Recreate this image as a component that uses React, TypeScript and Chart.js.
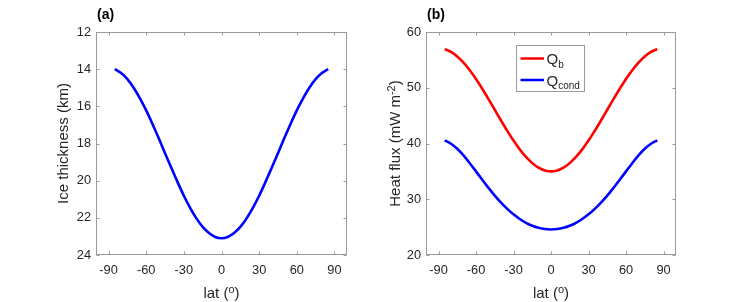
import React, { useEffect, useRef } from "react";
import { Chart, registerables } from "chart.js";

Chart.register(...registerables);

// ---------- data ----------
const lat = [
  -85, -80, -75, -70, -65, -60, -55, -50, -45, -40, -35, -30, -25, -20, -15, -10, -5,
  0, 5, 10, 15, 20, 25, 30, 35, 40, 45, 50, 55, 60, 65, 70, 75, 80, 85,
];
const iceThickness = [
  14.0, 14.21, 14.54, 15.0, 15.57, 16.22, 16.95, 17.72, 18.52, 19.31, 20.08, 20.81, 21.46, 22.03, 22.49, 22.82, 23.03,
  23.1, 23.03, 22.82, 22.49, 22.03, 21.46, 20.81, 20.08, 19.31, 18.52, 17.72, 16.95, 16.22, 15.57, 15.0, 14.54, 14.21, 14.0,
];
const qB = [
  56.93, 56.43, 55.62, 54.51, 53.15, 51.58, 49.83, 47.97, 46.05, 44.13, 42.27, 40.53, 38.95, 37.59, 36.48, 35.67, 35.17,
  35.0, 35.17, 35.67, 36.48, 37.59, 38.95, 40.53, 42.27, 44.13, 46.05, 47.97, 49.83, 51.58, 53.15, 54.51, 55.62, 56.43, 56.93,
];
const qCond = [
  40.56, 39.96, 39.05, 37.86, 36.47, 35.0, 33.5, 32.04, 30.66, 29.41, 28.28, 27.29, 26.46, 25.78, 25.25, 24.88, 24.65,
  24.58, 24.65, 24.88, 25.25, 25.78, 26.46, 27.29, 28.28, 29.41, 30.66, 32.04, 33.5, 35.0, 36.47, 37.86, 39.05, 39.96, 40.56,
];
const latTicks = [-90, -60, -30, 0, 30, 60, 90];
const thickTicks = [12, 14, 16, 18, 20, 22, 24];
const fluxTicks = [20, 30, 40, 50, 60];
const legendMain = ["Q", "Q"];
const legendSub = ["b", "cond"];

// ---------- styling ----------
const FONT = '"Liberation Sans", Arial, Helvetica, sans-serif';
const TEXT = "#262626";
const FRAME = "#9a9a9a";

type Part = { text: string; size: number; dy: number; bold?: boolean };

function partsWidth(ctx: CanvasRenderingContext2D, parts: Part[]) {
  let w = 0;
  for (const p of parts) {
    ctx.font = `${p.bold ? "bold " : ""}${p.size}px ${FONT}`;
    w += ctx.measureText(p.text).width;
  }
  return w;
}
function drawParts(ctx: CanvasRenderingContext2D, parts: Part[], x: number, y: number) {
  ctx.textBaseline = "alphabetic";
  ctx.textAlign = "left";
  let cx = x;
  for (const p of parts) {
    ctx.font = `${p.bold ? "bold " : ""}${p.size}px ${FONT}`;
    ctx.fillText(p.text, cx, y + p.dy);
    cx += ctx.measureText(p.text).width;
  }
}

const xTitle: Part[] = [
  { text: "lat (", size: 15, dy: 0 },
  { text: "o", size: 11, dy: -5.5 },
  { text: ")", size: 15, dy: 0 },
];

function decorPlugin(opts: {
  label: string;
  yTitle: Part[];
  yTitleGap: number;
  legend?: boolean;
}) {
  return {
    id: "panelDecor",
    afterDraw(chart: any) {
      const { ctx, chartArea: a, scales } = chart;
      const xs = scales.x;
      const ys = scales.y;
      ctx.save();
      // frame
      ctx.strokeStyle = FRAME;
      ctx.lineWidth = 1;
      const L = Math.round(a.left) + 0.5;
      const R = Math.round(a.right) - 0.5;
      const T = Math.round(a.top) + 0.5;
      const B = Math.round(a.bottom) - 0.5;
      ctx.strokeRect(L, T, R - L, B - T);
      ctx.beginPath();
      for (const t of xs.ticks) {
        const px = Math.round(xs.getPixelForValue(t.value)) + 0.5;
        ctx.moveTo(px, B);
        ctx.lineTo(px, B - 3);
        ctx.moveTo(px, T);
        ctx.lineTo(px, T + 3);
      }
      for (const t of ys.ticks) {
        const py = Math.round(ys.getPixelForValue(t.value)) + 0.5;
        ctx.moveTo(L, py);
        ctx.lineTo(L + 3, py);
        ctx.moveTo(R, py);
        ctx.lineTo(R - 3, py);
      }
      ctx.stroke();

      ctx.fillStyle = TEXT;
      // x title
      const cxm = (a.left + a.right) / 2;
      const wx = partsWidth(ctx, xTitle);
      drawParts(ctx, xTitle, cxm - wx / 2, 298);

      // y title (rotated)
      const cym = (a.top + a.bottom) / 2;
      const wy = partsWidth(ctx, opts.yTitle);
      ctx.save();
      ctx.translate(a.left - opts.yTitleGap, cym);
      ctx.rotate(-Math.PI / 2);
      drawParts(ctx, opts.yTitle, -wy / 2, 0);
      ctx.restore();

      // panel label
      ctx.fillStyle = "#000";
      drawParts(ctx, [{ text: opts.label, size: 14, dy: 0, bold: true }], a.left + 1, 18.5);

      // legend
      if (opts.legend) {
        const x0 = Math.round(a.left + 90) + 0.5;
        const y0 = Math.round(a.top + 13) + 0.5;
        const w = 68;
        const h = 46;
        ctx.fillStyle = "#fff";
        ctx.fillRect(x0, y0, w, h);
        ctx.strokeStyle = FRAME;
        ctx.lineWidth = 1;
        ctx.strokeRect(x0, y0, w, h);
        chart.data.datasets.forEach((ds: any, i: number) => {
          const ly = y0 + 13 + i * 21.5;
          ctx.strokeStyle = ds.borderColor;
          ctx.lineWidth = 2.5;
          ctx.beginPath();
          ctx.moveTo(x0 + 4, ly);
          ctx.lineTo(x0 + 27.5, ly);
          ctx.stroke();
          ctx.fillStyle = TEXT;
          drawParts(
            ctx,
            [
              { text: legendMain[i], size: 15, dy: 0 },
              { text: legendSub[i], size: 10, dy: 3.5 },
            ],
            x0 + 30,
            ly + 5.5
          );
        });
      }
      ctx.restore();
    },
  };
}

function baseScales(yTicks: number[], yMin: number, yMax: number, yWidth: number, reverse: boolean) {
  return {
    x: {
      type: "linear" as const,
      min: -100,
      max: 100,
      afterBuildTicks: (s: any) => {
        s.ticks = latTicks.map((v) => ({ value: v }));
      },
      afterFit: (s: any) => {
        s.height = 47;
      },
      grid: { display: false, drawTicks: false },
      border: { display: false },
      ticks: {
        font: { family: FONT, size: 12.8 },
        color: TEXT,
        padding: 8,
        maxRotation: 0,
        autoSkip: false,
      },
    },
    y: {
      type: "linear" as const,
      min: yMin,
      max: yMax,
      reverse,
      afterBuildTicks: (s: any) => {
        s.ticks = yTicks.map((v) => ({ value: v }));
      },
      afterFit: (s: any) => {
        s.width = yWidth;
      },
      grid: { display: false, drawTicks: false },
      border: { display: false },
      ticks: {
        font: { family: FONT, size: 12.8 },
        color: TEXT,
        padding: 5,
        autoSkip: false,
      },
    },
  };
}

function PanelA() {
  const ref = useRef<HTMLCanvasElement | null>(null);
  useEffect(() => {
    if (!ref.current) return;
    const chart = new Chart(ref.current, {
      type: "line",
      data: {
        datasets: [
          {
            label: "Ice thickness",
            data: lat.map((x, i) => ({ x, y: iceThickness[i] })),
            borderColor: "#0000ff",
            borderWidth: 2.6,
            pointRadius: 0,
            cubicInterpolationMode: "monotone",
          },
        ],
      },
      options: {
        responsive: false,
        animation: false,
        layout: { padding: { top: 32, right: 33, left: 0, bottom: 0 } },
        plugins: { legend: { display: false }, tooltip: { enabled: false } },
        scales: baseScales(thickTicks, 12, 24, 96, true) as any,
      },
      plugins: [
        decorPlugin({
          label: "(a)",
          yTitle: [{ text: "Ice thickness (km)", size: 15, dy: 0 }],
          yTitleGap: 28,
        }),
      ],
    });
    return () => chart.destroy();
  }, []);
  return (
    <canvas
      ref={ref}
      width={380}
      height={302}
      style={{ position: "absolute", left: 0, top: 0, width: 380, height: 302 }}
    />
  );
}

function PanelB() {
  const ref = useRef<HTMLCanvasElement | null>(null);
  useEffect(() => {
    if (!ref.current) return;
    const chart = new Chart(ref.current, {
      type: "line",
      data: {
        datasets: [
          {
            label: "Q_b",
            data: lat.map((x, i) => ({ x, y: qB[i] })),
            borderColor: "#ff0000",
            borderWidth: 2.6,
            pointRadius: 0,
            cubicInterpolationMode: "monotone",
          },
          {
            label: "Q_cond",
            data: lat.map((x, i) => ({ x, y: qCond[i] })),
            borderColor: "#0000ff",
            borderWidth: 2.6,
            pointRadius: 0,
            cubicInterpolationMode: "monotone",
          },
        ],
      },
      options: {
        responsive: false,
        animation: false,
        layout: { padding: { top: 32, right: 71, left: 0, bottom: 0 } },
        plugins: { legend: { display: false }, tooltip: { enabled: false } },
        scales: baseScales(fluxTicks, 20, 60, 46, false) as any,
      },
      plugins: [
        decorPlugin({
          label: "(b)",
          yTitle: [
            { text: "Heat flux (mW m", size: 15, dy: 0 },
            { text: "-2", size: 11, dy: -5.5 },
            { text: ")", size: 15, dy: 0 },
          ],
          yTitleGap: 26,
          legend: true,
        }),
      ],
    });
    return () => chart.destroy();
  }, []);
  return (
    <canvas
      ref={ref}
      width={367}
      height={302}
      style={{ position: "absolute", left: 380, top: 0, width: 367, height: 302 }}
    />
  );
}

export default function App() {
  return (
    <div
      style={{
        position: "absolute",
        left: 0,
        top: 0,
        width: 747,
        height: 302,
        background: "#fff",
        overflow: "hidden",
      }}
    >
      <PanelA />
      <PanelB />
    </div>
  );
}
